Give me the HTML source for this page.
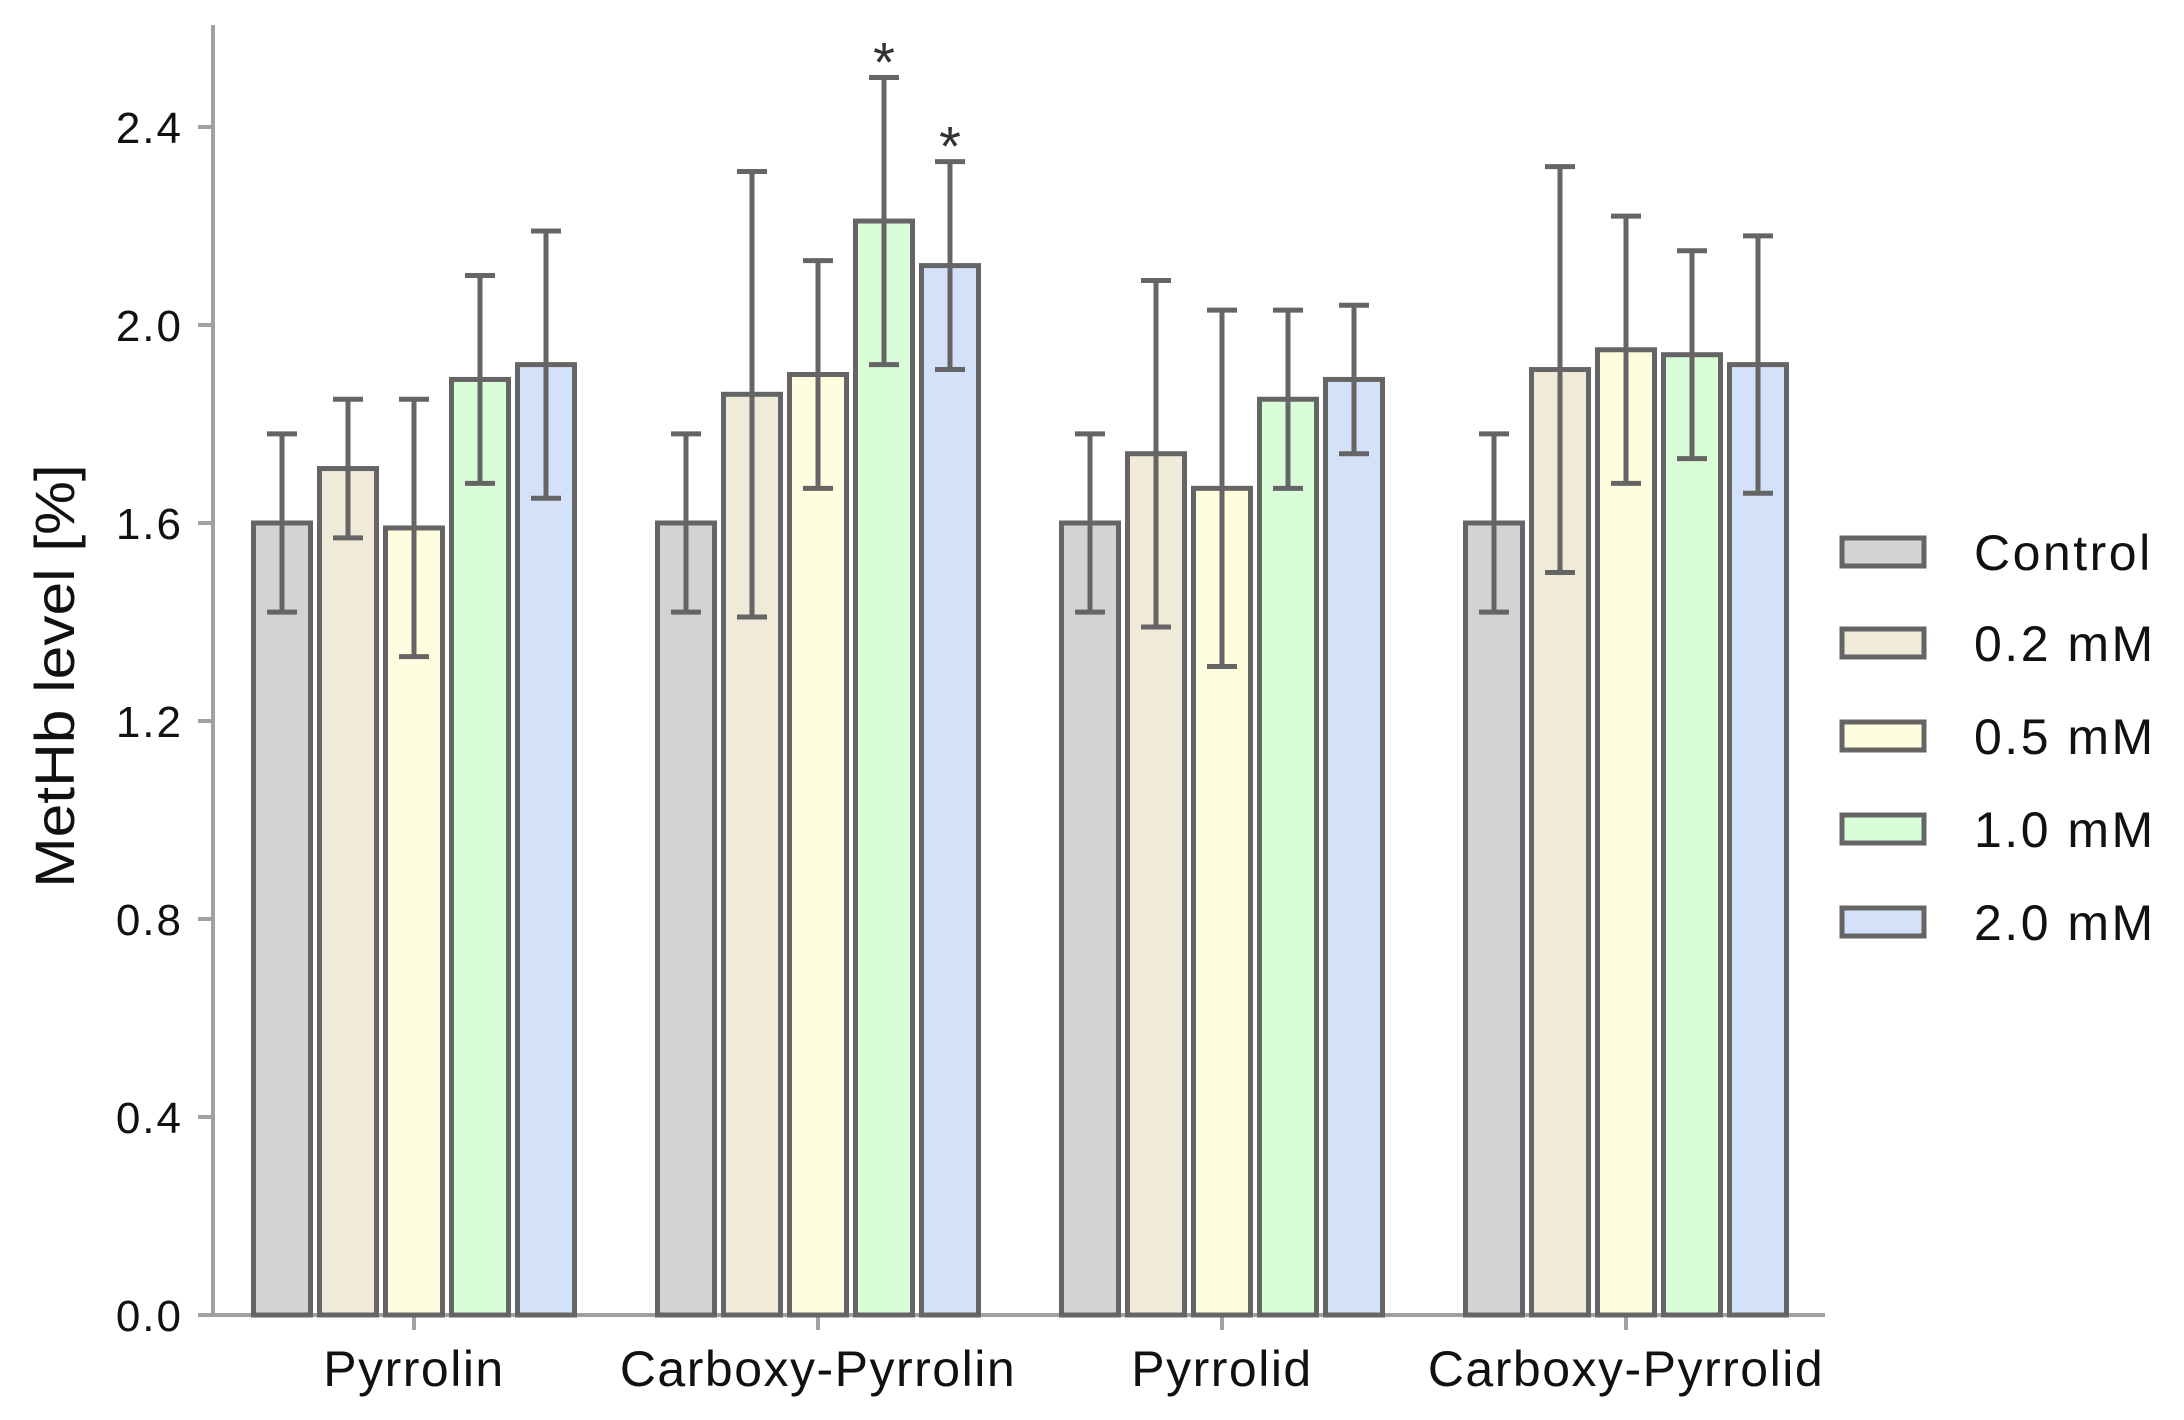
<!DOCTYPE html>
<html><head><meta charset="utf-8"><style>
html,body{margin:0;padding:0;background:#fff;}
svg{display:block;font-family:"Liberation Sans",Arial,sans-serif;}
</style></head><body>
<svg id="chart" width="2184" height="1420" viewBox="0 0 2184 1420" xmlns="http://www.w3.org/2000/svg"></svg>
<script>
const categories = ["Pyrrolin","Carboxy-Pyrrolin","Pyrrolid","Carboxy-Pyrrolid"];
const seriesNames = ["Control","0.2 mM","0.5 mM","1.0 mM","2.0 mM"];
const control = [1.60,1.60,1.60,1.60];
const mM02 = [1.71,1.86,1.74,1.91];
const mM05 = [1.59,1.90,1.67,1.95];
const mM10 = [1.89,2.21,1.85,1.94];
const mM20 = [1.92,2.12,1.89,1.92];
const errControl = [0.18,0.18,0.18,0.18];
const err02 = [0.14,0.45,0.35,0.41];
const err05 = [0.26,0.23,0.36,0.27];
const err10 = [0.21,0.29,0.18,0.21];
const err20 = [0.27,0.21,0.15,0.26];
const sigStars = [[],[],[],[1],[1]];
const yTicks = [0.0,0.4,0.8,1.2,1.6,2.0,2.4];
const yTickLabels = ["0.0","0.4","0.8","1.2","1.6","2.0","2.4"];

const values = [control,mM02,mM05,mM10,mM20];
const errors = [errControl,err02,err05,err10,err20];
const colors = ["#d3d3d3","#f0ebd8","#fefde0","#d9fdd9","#d3e2f8"];
const NS="http://www.w3.org/2000/svg";
const svg=document.getElementById('chart');
const y0=1315, pxPerUnit=198/0.4;
function yScale(v){return y0-v*pxPerUnit;}
const groupStart=414, groupStep=404, barStep=66, barW=57;
function xCenter(ci,si){return groupStart+ci*groupStep+(si-2)*barStep;}
function mk(tag,attrs){const e=document.createElementNS(NS,tag);for(const k in attrs)e.setAttribute(k,attrs[k]);svg.appendChild(e);return e;}

let ax=mk('line',{x1:213,y1:25,x2:213,y2:1316,stroke:'#a0a0a0','stroke-width':4});


ax=mk('line',{x1:211,y1:1315,x2:1825,y2:1315,stroke:'#a0a0a0','stroke-width':4});



yTicks.forEach((t,i)=>{
  const y=yScale(t);
  const tk=mk('line',{x1:198,y1:y,x2:213,y2:y,stroke:'#a0a0a0','stroke-width':4});
  
  
  const tx=mk('text',{x:183,y:y+16,'text-anchor':'end','font-size':44,'letter-spacing':2,fill:'#111'});
  tx.textContent=yTickLabels[i];
  
  
});

categories.forEach((c,ci)=>{
  const cx=xCenter(ci,2);
  const tk=mk('line',{x1:cx,y1:1315,x2:cx,y2:1330,stroke:'#a0a0a0','stroke-width':4});
  
  
  const tx=mk('text',{x:cx,y:1386,'text-anchor':'middle','font-size':50,'letter-spacing':1.5,fill:'#111'});
  tx.textContent=c;
  
  
});

values.forEach((arr,si)=>{
  arr.forEach((v,ci)=>{
    const cx=xCenter(ci,si);
    const r=mk('rect',{x:cx-barW/2,y:yScale(v),width:barW,height:y0-yScale(v),fill:colors[si],stroke:'#656565','stroke-width':5});
    
    
    const e=errors[si][ci];
    const g=mk('path',{d:`M${cx},${yScale(v+e)}V${yScale(v-e)}M${cx-15},${yScale(v+e)}H${cx+15}M${cx-15},${yScale(v-e)}H${cx+15}`,stroke:'#656565','stroke-width':5,fill:'none'});
    
    
    if(sigStars[si].includes(ci)){
      const s=mk('text',{x:cx,y:yScale(v+e)+4,'text-anchor':'middle','font-size':56,fill:'#333'});
      s.textContent='*';
      
      
    }
  });
});

const legY=[552,643,736,829,922];
seriesNames.forEach((n,si)=>{
  const r=mk('rect',{x:1842,y:legY[si]-14,width:82,height:28,fill:colors[si],stroke:'#656565','stroke-width':5});
  
  
  const t=mk('text',{x:1974,y:legY[si]+18,'font-size':50,'letter-spacing':2.5,fill:'#111'});
  t.textContent=n;
  
  
});

const yt=mk('text',{x:0,y:0,'text-anchor':'middle','font-size':56,fill:'#111',transform:'translate(74,676) rotate(-90) scale(1.08,1)'});
yt.textContent='MetHb level [%]';


</script>
</body></html>
